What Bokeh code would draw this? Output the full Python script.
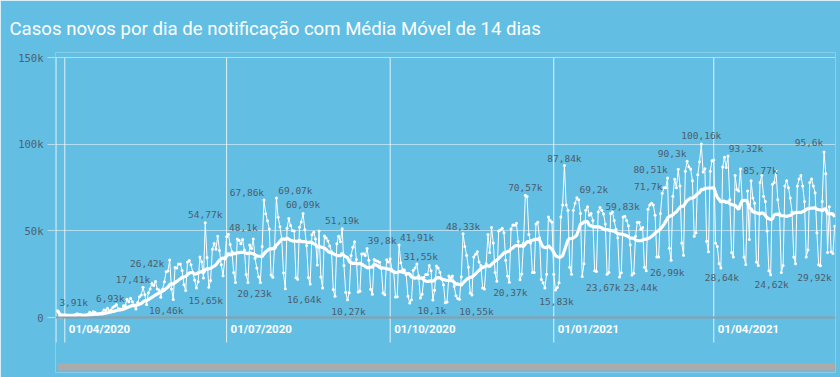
import numpy as np
import pandas as pd
from bokeh.plotting import figure
from bokeh.models import Range1d, FixedTicker, Span
from bokeh.core.properties import value
from bokeh.embed import file_html
from bokeh.resources import INLINE

# ---------------- data (daily new cases, by notification date) ----------------
START_DATE = "2020-03-28"
cases_2020_03 = [3910, 352, 323, 1138]
cases_2020_04 = [1119, 1074, 1146, 1222, 852, 926, 1661, 2210, 1930, 1781,
                 1089, 1442, 1261, 1832, 3058, 2105, 3257, 2976, 1996, 2089,
                 2336, 2678, 4279, 4007, 5281, 3776, 4346, 5789, 6450, 7502]
cases_2020_05 = [5015, 4898, 4726, 6794, 6930, 10503, 9162, 11121, 9167, 6638,
                 4932, 8620, 11923, 13028, 17410, 13220, 7569, 14288, 16517, 19694,
                 18508, 20803, 16508, 15813, 11687, 16324, 20599, 26417, 26928, 33274,
                 16409]
cases_2020_06 = [10460, 28936, 28633, 30925, 30830, 27075, 18912, 15654, 32091, 32913,
                 30412, 25982, 21704, 17110, 20647, 34918, 32188, 22765, 54771, 34666,
                 17459, 21432, 39436, 42725, 39483, 46907, 38693, 30476, 24052, 33846]
cases_2020_07 = [46712, 48105, 42223, 37923, 26051, 20229, 45305, 44571, 42619, 45048,
                 39023, 24831, 20286, 41857, 39924, 45403, 34177, 28532, 23529, 20257,
                 41008, 67860, 59961, 55891, 51147, 24578, 23284, 40816, 69074, 57837,
                 52383]
cases_2020_08 = [45392, 25800, 16641, 51603, 57152, 53139, 50230, 49970, 23010, 22048,
                 52160, 55155, 60091, 50644, 41576, 23101, 19373, 47784, 49298, 45323,
                 30355, 50032, 23421, 17078, 47134, 45961, 44235, 41350, 38000, 16158,
                 12247]
cases_2020_09 = [42659, 46934, 43773, 51194, 30000, 14521, 10273, 14279, 35816, 40557,
                 43718, 33523, 14768, 15155, 36653, 36820, 35757, 39797, 33057, 16389,
                 13439, 33536, 32817, 32445, 31911, 28378, 14194, 13155, 33413, 32058]
cases_2020_10 = [33922, 27562, 26310, 11844, 12026, 41906, 31553, 27750, 27444, 24721,
                 12342, 8426, 10220, 27235, 28523, 30914, 24062, 11203, 13493, 23227,
                 24818, 24858, 30026, 26979, 10100, 15726, 29787, 28629, 26106, 22282,
                 18947]
cases_2020_11 = [8501, 9000, 23976, 23000, 24000, 18000, 12500, 11000, 10550, 23500,
                 48330, 41000, 36000, 29000, 14200, 13000, 35000, 36500, 38000, 32000,
                 30000, 17000, 16500, 31000, 48000, 37500, 52000, 43000, 26000, 21000]
cases_2020_12 = [50000, 50500, 51500, 49000, 33000, 24000, 20370, 51088, 53453, 53347,
                 54428, 43900, 21825, 25193, 42889, 70574, 69826, 48000, 43000, 26000,
                 26000, 54000, 55000, 46000, 22000, 20000, 17000, 25000, 58000, 56000,
                 55000]
cases_2021_01 = [25000, 15830, 17300, 20000, 58000, 65000, 87840, 65000, 62000, 29000,
                 25000, 62000, 66000, 69200, 68000, 60000, 23670, 31000, 62000, 64000,
                 59000, 60000, 56000, 27000, 26500, 61000, 63500, 62000, 59830, 54000,
                 25000]
cases_2021_02 = [26000, 60000, 61000, 56000, 51000, 46000, 23440, 25800, 58000, 58500,
                 56000, 53000, 42000, 24500, 25500, 47000, 55000, 55000, 51000, 52000,
                 29000, 26990, 62500, 65000, 66000, 65000, 59000, 35000]
cases_2021_03 = [35000, 60000, 71700, 75000, 75000, 80510, 40000, 33000, 70000, 79900,
                 75000, 85600, 76000, 43000, 36000, 84500, 90300, 87000, 85700, 79000,
                 47000, 49000, 82500, 90000, 100160, 84000, 85900, 44000, 38000, 84500,
                 90600]
cases_2021_04 = [91000, 43000, 41000, 31000, 28640, 86900, 92600, 86600, 93320, 68000,
                 37500, 35000, 82000, 74000, 73000, 85770, 67600, 35000, 30600, 73000,
                 45000, 79000, 69000, 66000, 32000, 30000, 78000, 82000, 70000, 67000]
cases_2021_05 = [50000, 27000, 24620, 77000, 78000, 85000, 68000, 60000, 26000, 30000,
                 76000, 79000, 75000, 69000, 61000, 35000, 31000, 76000, 80000, 82000,
                 76000, 67000, 35000, 39000, 78000, 80000, 76000, 72000, 49000, 30500,
                 29920]
cases_2021_06 = [67000, 95600, 83000, 37500, 64000, 38000, 37000, 52700]

MA_WINDOW = 14

# points that carry a value label
label_dates = ["2020-03-28", "2020-05-05", "2020-05-15", "2020-05-28", "2020-06-01",
               "2020-06-08", "2020-06-19", "2020-07-02", "2020-07-22", "2020-07-06",
               "2020-07-29", "2020-08-13", "2020-08-03", "2020-09-04", "2020-09-07",
               "2020-09-18", "2020-10-06", "2020-10-07", "2020-10-25", "2020-11-11",
               "2020-11-09", "2020-12-16", "2020-12-07", "2021-01-07", "2021-01-02",
               "2021-01-14", "2021-01-29", "2021-01-17", "2021-02-07", "2021-03-06",
               "2021-03-03", "2021-02-22", "2021-03-17", "2021-03-25", "2021-04-05",
               "2021-04-09", "2021-04-16", "2021-05-03", "2021-06-02", "2021-05-31"]

tick_dates = ["2020-04-01", "2020-07-01", "2020-10-01", "2021-01-01", "2021-04-01"]
y_ticks = [0, 50000, 100000, 150000]
y_tick_labels = ["0", "50k", "100k", "150k"]

TITLE = "Casos novos por dia de notificação com Média Móvel de 14 dias"

# ---------------- layout / style (not data) ----------------
label_offsets = [(16, -8), (-15, -7), (-10, -8), (-19, -8), (-7, 11),
                 (20, 10), (0, -8), (15, -7), (-17, -8), (19, 11),
                 (19, -7), (0, -9), (19, 11), (0, -8), (1, 12),
                 (15, -8), (18, -7), (20, -6), (-1, 10), (0, -7),
                 (17, 12), (0, -8), (1, 10), (0, -7), (1, 11),
                 (17, -8), (19, -7), (21, 11), (21, 11), (-17, -9),
                 (-14, -7), (21, 2), (-15, -8), (0, -9), (1, 10),
                 (18, -7), (20, 1), (1, 10), (-15, -9), (-6, 12)]

BG = "#62BEE3"
W, H = 840, 377
FRAME_L, FRAME_R, FRAME_T, FRAME_B = 55, 835, 52, 372
ZERO_PX, TOP_TICK_PX = 317.0, 57.3            # screen y of 0 and of 150k
APR1_PX, PX_PER_DAY = 64.3, 1.778              # screen x of 01/04/2020
GRID_BOTTOM_PX = 342
SCROLL_TOP_PX, SCROLL_BOT_PX, SCROLL_L_PX = 363, 370, 57

# ---------------- build series ----------------
months = [cases_2020_03, cases_2020_04, cases_2020_05, cases_2020_06, cases_2020_07,
          cases_2020_08, cases_2020_09, cases_2020_10, cases_2020_11, cases_2020_12,
          cases_2021_01, cases_2021_02, cases_2021_03, cases_2021_04, cases_2021_05,
          cases_2021_06]
cases = pd.Series([v for m in months for v in m], dtype=float)
dates = pd.date_range(START_DATE, periods=len(cases), freq="D")
cases.index = dates
ma = cases.rolling(MA_WINDOW, min_periods=1).mean()

px_per_unit = (ZERO_PX - TOP_TICK_PX) / y_ticks[-1]
y_end = y_ticks[-1] + (TOP_TICK_PX - FRAME_T) / px_per_unit
y_start = -(FRAME_B - ZERO_PX) / px_per_unit
grid_bottom = -(GRID_BOTTOM_PX - ZERO_PX) / px_per_unit
scroll_top = -(SCROLL_TOP_PX - ZERO_PX) / px_per_unit
scroll_bot = -(SCROLL_BOT_PX - ZERO_PX) / px_per_unit

DAY = pd.Timedelta(days=1)
apr1 = pd.Timestamp(tick_dates[0])
x_start = apr1 - DAY * ((APR1_PX - FRAME_L) / PX_PER_DAY)
x_end = x_start + DAY * ((FRAME_R - FRAME_L) / PX_PER_DAY)
scroll_left = x_start + DAY * ((SCROLL_L_PX - FRAME_L) / PX_PER_DAY)


def fmt_k(v):
    s = f"{v / 1000:.2f}".rstrip("0").rstrip(".")
    return s.replace(".", ",") + "k"


lab_x = pd.to_datetime(label_dates)
lab_y = [cases[d] for d in lab_x]
lab_t = [fmt_k(v) for v in lab_y]

p = figure(width=W, height=H, x_axis_type="datetime", x_axis_location=None,
           output_backend="svg", toolbar_location=None,
           x_range=Range1d(x_start, x_end), y_range=Range1d(y_start, y_end),
           min_border_left=FRAME_L, min_border_right=W - FRAME_R,
           min_border_top=FRAME_T, min_border_bottom=H - FRAME_B,
           background_fill_color=BG, border_fill_color=BG, outline_line_color=None)

p.title.text = TITLE
p.title.text_color = "white"
p.title.text_font = "Roboto"
p.title.text_font_style = "normal"
p.title.text_font_size = "18.6px"
p.title.align = "left"
p.title.offset = -46
p.title.standoff = 26

# y axis
p.yaxis.ticker = FixedTicker(ticks=y_ticks)
p.yaxis.major_label_overrides = dict(zip(y_ticks, y_tick_labels))
p.yaxis.axis_line_color = None
p.yaxis.major_tick_out = 8
p.yaxis.major_tick_in = 0
p.yaxis.major_tick_line_color = "#b4def0"
p.yaxis.minor_tick_line_color = None
p.yaxis.major_label_standoff = 4
p.yaxis.major_label_text_font = "DejaVu Sans Mono"
p.yaxis.major_label_text_font_size = "10.5px"
p.yaxis.major_label_text_color = "#50616e"

p.ygrid.ticker = FixedTicker(ticks=y_ticks[1:])
p.ygrid.grid_line_color = "white"
p.ygrid.grid_line_alpha = 0.5
p.xgrid.visible = False

p.add_layout(Span(location=0, dimension="width", line_color="#8e9ea8", line_width=2))

# vertical quarter lines + left axis line
tick_ts = pd.to_datetime(tick_dates)
p.segment(x0=tick_ts, y0=y_ticks[-1], x1=tick_ts, y1=grid_bottom,
          line_color="white", line_alpha=0.8, line_width=1)
p.segment(x0=[x_start + DAY * 0.3], y0=y_ticks[-1], x1=[x_start + DAY * 0.3], y1=grid_bottom,
          line_color="white", line_alpha=0.8, line_width=1)

# x tick labels
p.text(x=tick_ts, y=[0] * len(tick_ts), text=[d.strftime("%d/%m/%Y") for d in tick_ts],
       x_offset=4, y_offset=11, text_align="left", text_baseline="middle",
       text_color="white", text_font=value("Roboto"),
       text_font_style="bold", text_font_size="11.5px")

# daily series and moving average
p.line(dates, cases.values, line_color="white", line_width=1)
p.scatter(dates, cases.values, size=3, fill_color="white", line_color=None)
p.line(dates, ma.values, line_color="white", line_width=3.2)

# value labels
p.text(x=lab_x, y=lab_y, text=lab_t,
       x_offset=[o[0] for o in label_offsets], y_offset=[o[1] for o in label_offsets],
       text_align="center", text_baseline="middle", text_color="#4b5d6b",
       text_font=value("DejaVu Sans Mono"), text_font_size="9.5px")

# scroll bar
p.quad(left=[scroll_left], right=[x_end], top=[scroll_top], bottom=[scroll_bot],
       fill_color="#ababab", line_color=None)

open("out.html", "w").write(file_html(p, INLINE))
